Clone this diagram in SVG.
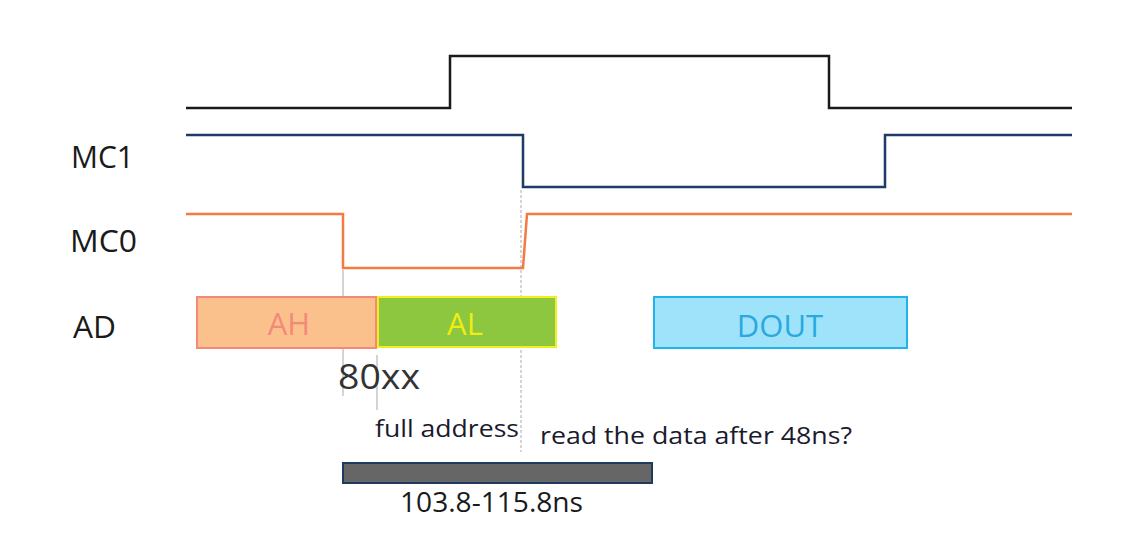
<svg xmlns="http://www.w3.org/2000/svg" width="1134" height="554" viewBox="0 0 1134 554">
<style>
text{font-family:"Open Sans","Noto Sans","DejaVu Sans",sans-serif}
.lbl{font-size:31px;fill:#1a1a1a}
.sig{fill:none;stroke-width:2.5}
.guide{stroke:#aaaaaa;stroke-width:1}
.box{stroke-width:2}
.boxt{font-size:31px;text-anchor:middle}
.small{font-size:23px;fill:#1a1a2e;font-weight:500}
</style>
<rect width="1134" height="554" fill="#ffffff"/>
<g id="connectors">
<line class="guide" x1="343" y1="270" x2="343" y2="396"/>
<line class="guide" x1="377" y1="355" x2="377" y2="410"/>
<line class="guide" x1="521" y1="190" x2="521" y2="452" stroke-dasharray="3 2"/>
</g>
<g id="clk"><polyline class="sig" stroke="#1a1a1a" points="186,108 450,108 450,56 829,56 829,108 1072,108"/></g>
<g id="mc1"><text class="lbl" x="71" y="168" textLength="63" lengthAdjust="spacingAndGlyphs">MC1</text><polyline class="sig" stroke="#1f3a68" points="186,135 523,135 523,187 885,187 885,135 1072,135"/></g>
<g id="mc0"><text class="lbl" x="70" y="252" textLength="67" lengthAdjust="spacingAndGlyphs">MC0</text><polyline class="sig" stroke="#f47a42" points="186,214 343,214 343,268 523,268 527,214 1072,214"/></g>
<g id="ad"><text class="lbl" x="73" y="338" textLength="43" lengthAdjust="spacingAndGlyphs">AD</text></g>
<g id="ah"><rect class="box" x="197" y="297" width="179" height="51" fill="#fbc18c" stroke="#f4897a"/><text class="boxt" x="289" y="335" fill="#f4897a">AH</text></g>
<g id="al"><rect class="box" x="378" y="297" width="178" height="50" fill="#8dc63f" stroke="#f0f020"/><text class="boxt" x="465" y="335" fill="#eeee10">AL</text></g>
<g id="dout"><rect class="box" x="654" y="297" width="253" height="51" fill="#9fe3fb" stroke="#1fb4ef"/><text class="boxt" x="780" y="337" fill="#2aa8e0">DOUT</text></g>
<g id="addr80"><text x="338" y="389" font-size="35" fill="#333333" textLength="82" lengthAdjust="spacingAndGlyphs">80xx</text></g>
<g id="full"><text class="small" x="375" y="437" textLength="144" lengthAdjust="spacingAndGlyphs">full address</text></g>
<g id="read"><text class="small" x="540" y="444" textLength="312" lengthAdjust="spacingAndGlyphs">read the data after 48ns?</text></g>
<g id="bar"><rect x="343" y="463" width="309" height="20" fill="#666666" stroke="#1f3a5f" stroke-width="2"/><text x="400" y="512" font-size="28" fill="#1a1a1a" textLength="183" lengthAdjust="spacingAndGlyphs">103.8-115.8ns</text></g>
</svg>
